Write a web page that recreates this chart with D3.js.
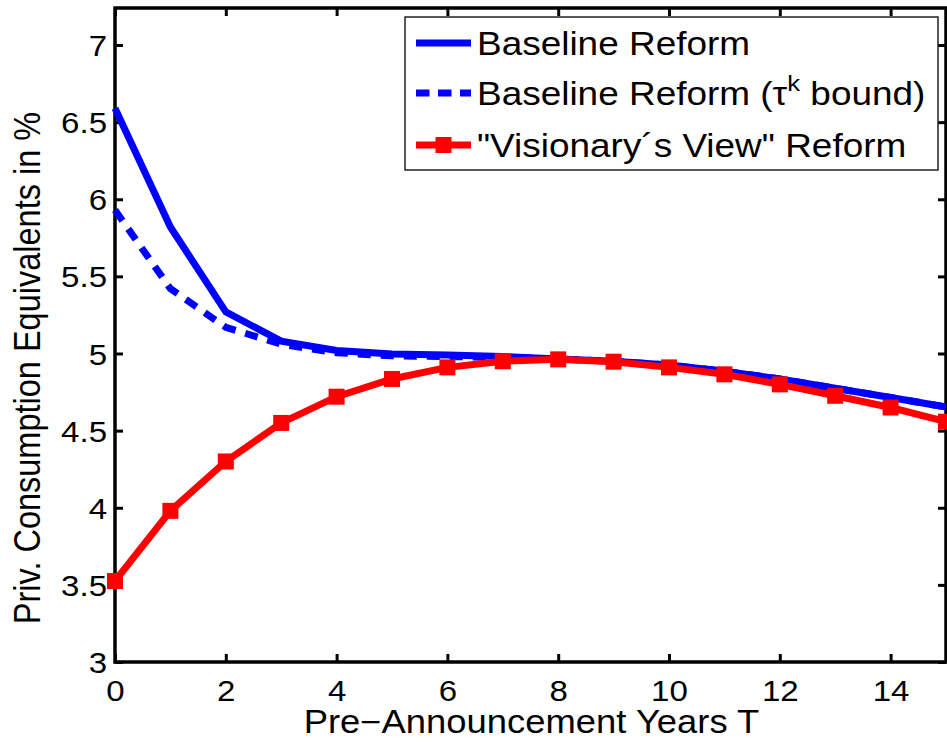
<!DOCTYPE html>
<html>
<head>
<meta charset="utf-8">
<script src="https://cdn.jsdelivr.net/npm/d3@7/dist/d3.min.js"></script>
<style>
  html, body { margin: 0; padding: 0; background: #fff; }
  svg { display: block; }
  text { font-family: "Liberation Sans", Arial, Helvetica, sans-serif; fill: #000; }
</style>
</head>
<body>
<svg id="chart" width="947" height="745"></svg>
<script>
// Pre-announcement years T
const years = [0, 1, 2, 3, 4, 5, 6, 7, 8, 9, 10, 11, 12, 13, 14, 15];
// Consumption equivalents (%) per reform scenario
const baselineReform = [6.59, 5.82, 5.27, 5.08, 5.02, 4.997, 4.99, 4.98, 4.965, 4.95, 4.925, 4.885, 4.835, 4.775, 4.715, 4.653];
const baselineTauBound = [5.93, 5.42, 5.17, 5.06, 5.005, 4.985, 4.98, 4.975, 4.965, 4.95, 4.925, 4.885, 4.835, 4.775, 4.715, 4.653];
const visionaryReform = [3.525, 3.98, 4.30, 4.55, 4.72, 4.835, 4.91, 4.95, 4.962, 4.947, 4.91, 4.865, 4.80, 4.726, 4.65, 4.558];
// Axis ticks
const xTicks = [0, 2, 4, 6, 8, 10, 12, 14];
const yTicks = [3, 3.5, 4, 4.5, 5, 5.5, 6, 6.5, 7];

const svg = d3.select("#chart");
const plotLeft = 115, plotRight = 946, plotTop = 8, plotBottom = 662;
const SX = 1.12; // horizontal glyph stretch of the figure's text

const x = d3.scaleLinear().domain([0, 15]).range([plotLeft, plotRight]);
const y = d3.scaleLinear().domain([3, 7.24]).range([plotBottom, plotTop]);

// Tick marks on all four sides, pointing inward
function styleAxis(g) {
  g.select(".domain").remove();
  g.selectAll(".tick line").attr("stroke", "#000").attr("stroke-width", 3);
}

const fmt = d => String(d);

const gx = svg.append("g").attr("transform", `translate(0,${plotBottom})`)
  .call(d3.axisBottom(x).tickValues(xTicks).tickSize(-8).tickFormat(fmt));
styleAxis(gx);
gx.selectAll(".tick text")
  .attr("y", 39).attr("dy", null)
  .attr("transform", `scale(${SX},1)`)
  .style("font-size", "29.5px").attr("fill", "#000");

svg.append("g").attr("transform", `translate(0,${plotTop})`)
  .call(d3.axisTop(x).tickValues(xTicks).tickSize(-8).tickFormat(""))
  .call(styleAxis);

const gy = svg.append("g").attr("transform", `translate(${plotLeft},0)`)
  .call(d3.axisLeft(y).tickValues(yTicks).tickSize(-8).tickFormat(fmt));
styleAxis(gy);
gy.selectAll(".tick text")
  .attr("x", -8 / SX).attr("dy", null).attr("y", 10.5)
  .attr("transform", `scale(${SX},1)`)
  .style("font-size", "29.5px").attr("fill", "#000");

svg.append("g").attr("transform", `translate(${plotRight},0)`)
  .call(d3.axisRight(y).tickValues(yTicks).tickSize(-8).tickFormat(""))
  .call(styleAxis);

// Axes box
svg.append("rect")
  .attr("x", plotLeft).attr("y", plotTop)
  .attr("width", plotRight - plotLeft).attr("height", plotBottom - plotTop)
  .attr("fill", "none").attr("stroke", "#000").attr("stroke-width", 3.5);

// Axis titles
svg.append("text")
  .attr("transform", `translate(${(plotLeft + plotRight) / 2 + 1},733) scale(${SX},1)`)
  .attr("text-anchor", "middle").style("font-size", "32.5px")
  .text("Pre\u2212Announcement Years T");

svg.append("text")
  .attr("transform", `translate(40,368) scale(${SX},1) rotate(-90)`)
  .attr("text-anchor", "middle").style("font-size", "32.5px")
  .text("Priv. Consumption Equivalents in %");

// Series
const line = vals => d3.line().x((d, i) => x(years[i])).y(d => y(d))(vals);

svg.append("path").attr("d", line(baselineReform))
  .attr("fill", "none").attr("stroke", "#0000ff").attr("stroke-width", 7)
  .attr("stroke-linejoin", "miter");

svg.append("path").attr("d", line(baselineTauBound))
  .attr("fill", "none").attr("stroke", "#0000ff").attr("stroke-width", 7)
  .attr("stroke-dasharray", "13,10");

svg.append("path").attr("d", line(visionaryReform))
  .attr("fill", "none").attr("stroke", "#ff0000").attr("stroke-width", 7)
  .attr("stroke-linejoin", "miter");

const ms = 16;
svg.append("g").selectAll("rect").data(visionaryReform).join("rect")
  .attr("x", (d, i) => x(years[i]) - ms / 2)
  .attr("y", d => y(d) - ms / 2)
  .attr("width", ms).attr("height", ms)
  .attr("fill", "#ff0000");

// Legend
const legend = svg.append("g");
legend.append("rect")
  .attr("x", 405).attr("y", 17).attr("width", 533).attr("height", 153)
  .attr("fill", "#fff").attr("stroke", "#222").attr("stroke-width", 1.5);

const rows = [43, 93, 145];
const sx0 = 416, sx1 = 471, tx = 477;

legend.append("line").attr("x1", sx0).attr("x2", sx1).attr("y1", rows[0]).attr("y2", rows[0])
  .attr("stroke", "#0000ff").attr("stroke-width", 7);
legend.append("line").attr("x1", sx0).attr("x2", sx1).attr("y1", rows[1]).attr("y2", rows[1])
  .attr("stroke", "#0000ff").attr("stroke-width", 7).attr("stroke-dasharray", "13.5,8.5");
legend.append("line").attr("x1", sx0).attr("x2", sx1).attr("y1", rows[2]).attr("y2", rows[2])
  .attr("stroke", "#ff0000").attr("stroke-width", 7);
legend.append("rect").attr("x", (sx0 + sx1) / 2 - ms / 2).attr("y", rows[2] - ms / 2)
  .attr("width", ms).attr("height", ms).attr("fill", "#ff0000");

legend.append("text")
  .attr("transform", `translate(${tx},${rows[0] + 12}) scale(${SX},1)`)
  .style("font-size", "33px").text("Baseline Reform");

const t2 = legend.append("text")
  .attr("transform", `translate(${tx},${rows[1] + 12}) scale(${SX},1)`)
  .style("font-size", "33px");
t2.append("tspan").text("Baseline Reform (\u03C4");
t2.append("tspan").attr("dy", -14).style("font-size", "23px").text("k");
t2.append("tspan").attr("dy", 14).text(" bound)");

legend.append("text")
  .attr("transform", `translate(${tx},${rows[2] + 12}) scale(${SX},1)`)
  .style("font-size", "33px").text("\"Visionary\u00B4s View\" Reform");
</script>
</body>
</html>
